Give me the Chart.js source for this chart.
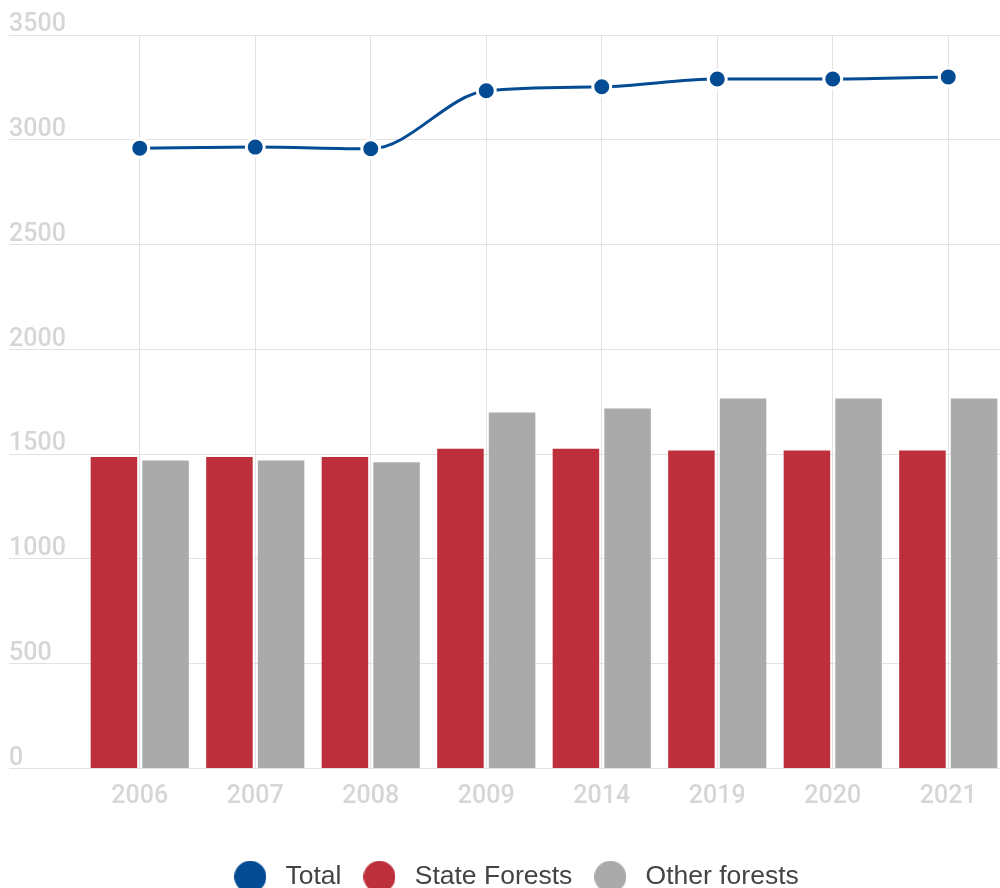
<!DOCTYPE html>
<html>
<head>
<meta charset="utf-8">
<script src="https://cdn.jsdelivr.net/npm/chart.js@4/dist/chart.umd.min.js"></script>
<style>
  html, body { margin: 0; padding: 0; background: #fff; overflow: hidden; }
  #wrap { width: 1018px; height: 888px; position: relative; }
</style>
</head>
<body>
<div id="wrap"><canvas id="c"></canvas></div>
<script>
const years = ['2006', '2007', '2008', '2009', '2014', '2019', '2020', '2021'];
const totalValues = [2960, 2965, 2957, 3234, 3253, 3290, 3290, 3300];
const stateForests = [1491, 1491, 1491, 1531, 1531, 1522, 1522, 1522];
const otherForests = [1474, 1474, 1466, 1703, 1722, 1770, 1770, 1770];
const yTicksMax = 3500;
const yTicksStep = 500;

const colTotal = '#034b92';
const colState = '#bd303b';
const colOther = '#aaaaaa';

const tickFont = { family: "Roboto, 'Liberation Sans', Arial, sans-serif", size: 25, weight: '500' };
const legendFont = { family: "'Liberation Sans', Arial, sans-serif", size: 26.5 };
const gridColor = '#e2e2e2';
const tickColor = '#d6d6d6';

function dot(color) {
  const c = document.createElement('canvas');
  c.width = 32; c.height = 32;
  const g = c.getContext('2d');
  g.fillStyle = color;
  g.beginPath();
  g.arc(16, 16, 16, 0, Math.PI * 2);
  g.fill();
  return c;
}

new Chart(document.getElementById('c'), {
  type: 'bar',
  data: {
    labels: years,
    datasets: [
      {
        type: 'line',
        label: 'Total',
        data: totalValues,
        borderColor: colTotal,
        backgroundColor: colTotal,
        borderWidth: 3,
        pointRadius: 9,
        pointBorderWidth: 3,
        pointBorderColor: '#ffffff',
        pointBackgroundColor: colTotal,
        cubicInterpolationMode: 'monotone',
        fill: false
      },
      {
        type: 'bar',
        label: 'State Forests',
        data: stateForests,
        backgroundColor: colState,
        borderColor: 'rgba(255,255,255,0.35)',
        borderWidth: 1,
        categoryPercentage: 0.894,
        barPercentage: 0.94
      },
      {
        type: 'bar',
        label: 'Other forests',
        data: otherForests,
        backgroundColor: colOther,
        borderColor: 'rgba(255,255,255,0.35)',
        borderWidth: 1,
        categoryPercentage: 0.894,
        barPercentage: 0.94
      }
    ]
  },
  options: {
    responsive: true,
    maintainAspectRatio: false,
    animation: false,
    layout: { padding: { top: 35, left: 9, right: 0, bottom: -12 } },
    plugins: {
      tooltip: { enabled: false },
      legend: {
        position: 'bottom',
        labels: {
          usePointStyle: true,
          pointStyleWidth: 44,
          boxHeight: 23,
          padding: 16,
          color: '#444444',
          font: legendFont,
          generateLabels: (chart) => {
            const cols = [colTotal, colState, colOther];
            return chart.data.datasets.map((ds, i) => ({
              text: ds.label,
              pointStyle: dot(cols[i]),
              fillStyle: cols[i],
              strokeStyle: cols[i],
              lineWidth: 0,
              fontColor: '#444444',
              hidden: false,
              datasetIndex: i
            }));
          }
        }
      }
    },
    scales: {
      x: {
        grid: { color: gridColor, offset: false, drawTicks: false, lineWidth: 1 },
        border: { display: false },
        ticks: { color: tickColor, font: tickFont, padding: 13, maxRotation: 0 },
        afterFit: (s) => { s.height = 79; }
      },
      y: {
        min: 0,
        max: yTicksMax,
        grid: { color: gridColor, drawTicks: true, tickLength: 73, lineWidth: 1 },
        border: { display: false },
        ticks: {
          stepSize: yTicksStep,
          color: tickColor,
          font: tickFont,
          crossAlign: 'far',
          labelOffset: -10,
          callback: (v) => String(v)
        },
        afterFit: (s) => { s.width = 73; }
      }
    }
  }
});
</script>
</body>
</html>
